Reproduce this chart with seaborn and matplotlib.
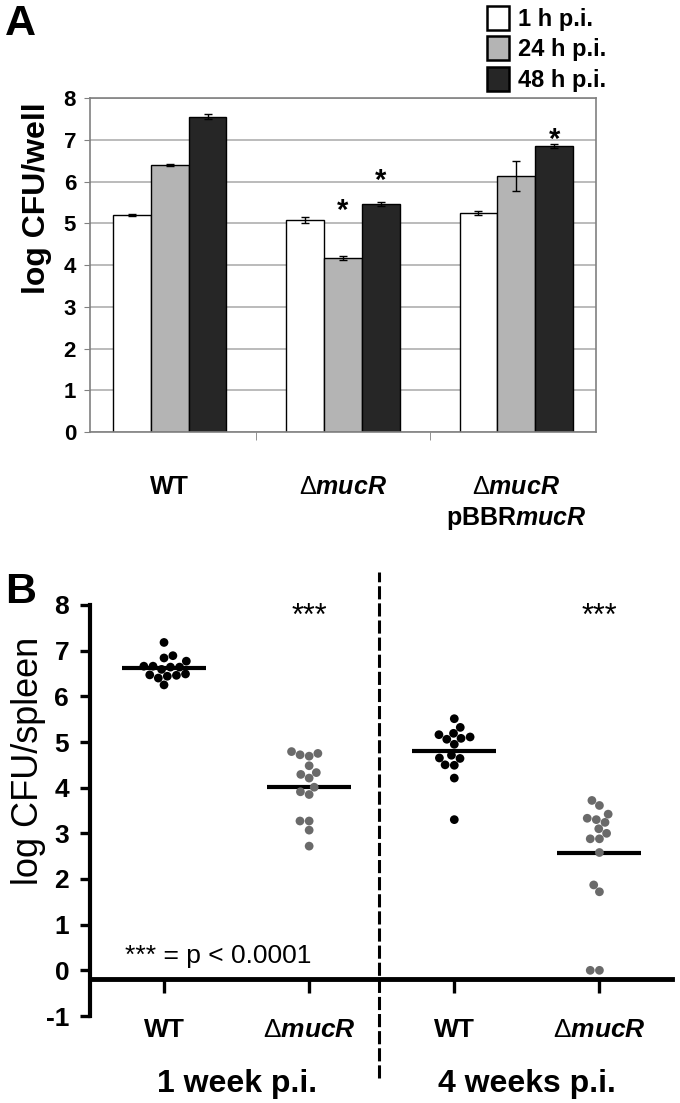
import numpy as np
import pandas as pd
import seaborn as sns
import matplotlib.pyplot as plt
import matplotlib.transforms as mtransforms

plt.rcParams['font.family'] = ['Liberation Sans', 'DejaVu Sans']
plt.rcParams['mathtext.fontset'] = 'custom'
plt.rcParams['mathtext.rm'] = 'Liberation Sans'
plt.rcParams['mathtext.it'] = 'Liberation Sans:italic:bold'
plt.rcParams['mathtext.bf'] = 'Liberation Sans:bold'

# ---- panel A: in vitro infection (log CFU/well) ----
strains_a = ['WT', 'dmucR', 'dmucR_comp']
strain_labels_a = ['WT', r'$\Delta\mathit{mucR}$', '$\\Delta\\mathit{mucR}$\npBBR$\\mathit{mucR}$']
times = ['1 h p.i.', '24 h p.i.', '48 h p.i.']
cfu_1h = [5.20, 5.08, 5.25]
cfu_24h = [6.39, 4.16, 6.13]
cfu_48h = [7.55, 5.47, 6.85]
err_1h = [0.03, 0.07, 0.05]
err_24h = [0.02, 0.05, 0.35]
err_48h = [0.06, 0.05, 0.05]
# y of the significance stars (None = no star)
star_1h = [None, None, None]
star_24h = [None, 5.3, None]
star_48h = [None, 6.02, 7.0]
bar_colors = ['white', '#b4b4b4', '#262626']

# ---- panel B: spleen colonisation (log CFU/spleen) ----
groups = ['wt_1w', 'muc_1w', 'wt_4w', 'muc_4w']
group_labels = ['WT', r'$\Delta\mathit{mucR}$', 'WT', r'$\Delta\mathit{mucR}$']
wt_1w = [6.77, 6.66, 6.47, 6.64, 6.44, 7.18, 6.89, 6.59, 6.25, 6.64, 6.40, 6.66, 6.46, 6.84, 6.49]
muc_1w = [4.72, 4.79, 4.69, 4.75, 4.48, 4.29, 4.21, 4.33, 4.01, 3.85, 3.91, 3.27, 3.27, 3.07, 2.72]
wt_4w = [5.19, 5.11, 5.06, 5.32, 4.95, 5.51, 5.08, 5.16, 4.71, 4.64, 4.49, 4.50, 4.65, 4.21, 3.30]
muc_4w = [3.72, 3.61, 3.30, 3.33, 3.42, 3.24, 3.10, 3.00, 2.88, 2.88, 2.58, 1.87, 1.72, 0.0, 0.0]
periods = ['1 week p.i.', '4 weeks p.i.']

df_a = pd.DataFrame({
    'strain': strains_a * 3,
    'time': [t for t in times for _ in strains_a],
    'cfu': cfu_1h + cfu_24h + cfu_48h,
})
df_b = pd.DataFrame({
    'group': ['wt_1w'] * len(wt_1w) + ['muc_1w'] * len(muc_1w)
             + ['wt_4w'] * len(wt_4w) + ['muc_4w'] * len(muc_4w),
    'strain': ['WT'] * len(wt_1w) + ['mucR'] * len(muc_1w)
              + ['WT'] * len(wt_4w) + ['mucR'] * len(muc_4w),
    'cfu': wt_1w + muc_1w + wt_4w + muc_4w,
})

fig = plt.figure(figsize=(6.8, 11.03), dpi=100)
W, H = 680, 1103

# ================= panel A =================
axA = fig.add_axes([90 / W, 1 - 432 / H, (596 - 90) / W, (432 - 98) / H])
sns.barplot(data=df_a, x='strain', y='cfu', hue='time', order=strains_a, hue_order=times,
            palette=bar_colors, edgecolor='black', linewidth=1.0, width=0.655, gap=0,
            errorbar=None, saturation=1, ax=axA)

for cont, errs, stars in zip(axA.containers, [err_1h, err_24h, err_48h], [star_1h, star_24h, star_48h]):
    for bar, e, s in zip(cont, errs, stars):
        xc = bar.get_x() + bar.get_width() / 2
        axA.errorbar(xc, bar.get_height(), yerr=e, color='black', elinewidth=1,
                     capsize=3, capthick=1, zorder=4)
        if s is not None:
            axA.text(xc, s, '*', ha='center', va='center', fontsize=21, fontweight='bold')

handles, labels = axA.get_legend_handles_labels()
axA.get_legend().remove()
for hd in handles:
    hd.set_edgecolor('black')
    hd.set_linewidth(1.8)
fig.legend(handles, labels, loc='upper left', bbox_to_anchor=(487 / W, 1 - 6 / H),
           frameon=False, handlelength=0.95, handleheight=1.2, handletextpad=0.35,
           labelspacing=0.22, borderpad=0, borderaxespad=0,
           prop={'family': ['Liberation Sans Narrow', 'Liberation Sans'], 'weight': 'bold', 'size': 17})

axA.set_ylim(0, 8)
axA.set_yticks(range(0, 9))
axA.set_yticklabels([str(v) for v in range(0, 9)], fontsize=16, fontweight='bold')
axA.yaxis.grid(True, color='#a8a8a8', linewidth=1.1)
axA.set_axisbelow(True)
for sp in axA.spines.values():
    sp.set_color('#808080')
    sp.set_linewidth(1.2)
axA.tick_params(axis='y', length=4, color='#808080', pad=6)
axA.set_xticks([0, 1, 2])
axA.set_xticklabels(strain_labels_a, fontsize=18, fontweight='bold', va='top', linespacing=1.3)
axA.set_xticks([0.5, 1.5], minor=True)
axA.tick_params(axis='x', which='major', length=0, pad=31)
axA.tick_params(axis='x', which='minor', length=6, color='#808080')
axA.set_xlabel('')
axA.set_ylabel('log CFU/well', fontsize=23, fontweight='bold')
axA.yaxis.set_label_coords(-0.075, 0.70)

# ================= panel B =================
axB = fig.add_axes([90 / W, 1 - 1016 / H, (672 - 90) / W, (1016 - 605) / H])
sns.pointplot(data=df_b, x='group', y='cfu', order=groups, estimator='mean', errorbar=None,
              color='black', markers='_', linestyle='none', markersize=60,
              markeredgewidth=3, zorder=2, ax=axB)
sns.swarmplot(data=df_b, x='group', y='cfu', hue='strain', order=groups,
              palette={'WT': 'black', 'mucR': '#6a6a6a'}, size=6.3, linewidth=0,
              legend=False, zorder=3, ax=axB)

axB.set_xlim(-0.51, 3.5)
axB.set_ylim(-1, 8)
axB.set_yticks(range(-1, 9))
axB.set_yticklabels([str(v) for v in range(-1, 9)], fontsize=19, fontweight='bold')
axB.spines['top'].set_visible(False)
axB.spines['right'].set_visible(False)
axB.spines['left'].set_linewidth(3)
axB.spines['left'].set_bounds(-1, 8)
axB.spines['bottom'].set_position(('data', -0.2))
axB.spines['bottom'].set_linewidth(3.5)
axB.tick_params(axis='y', length=7, width=2.4, pad=8)
axB.tick_params(axis='x', length=10, width=2.4, pad=18)
axB.set_xticks(range(4))
axB.set_xticklabels(group_labels, fontsize=19, fontweight='bold')
axB.set_xlabel('')
axB.set_ylabel('log CFU/spleen', fontsize=26)
axB.yaxis.set_label_coords(-0.075, 0.62)

# divider between time points
axB.axvline(1.48, ymin=-0.151, ymax=1.08, color='black', linewidth=2.2,
            dashes=(4.3, 1.3), clip_on=False)

for i in [1, 3]:
    axB.text(i, 7.75, '***', ha='center', va='center', fontsize=22)
axB.text(-0.27, 0.16, '*** = p < 0.0001', ha='left', va='baseline', fontsize=19)

trans = mtransforms.blended_transform_factory(axB.transData, axB.transAxes)
for x, lab in zip([0.5, 2.5], periods):
    axB.text(x, -0.165, lab, transform=trans, ha='center', va='center',
             fontsize=23, fontweight='bold')

fig.text(5 / W, 1 - 4 / H, 'A', fontsize=31, fontweight='bold', va='top', ha='left')
fig.text(5 / W, 1 - 572 / H, 'B', fontsize=31, fontweight='bold', va='top', ha='left')

fig.savefig('out.png', dpi=100, facecolor='white')
